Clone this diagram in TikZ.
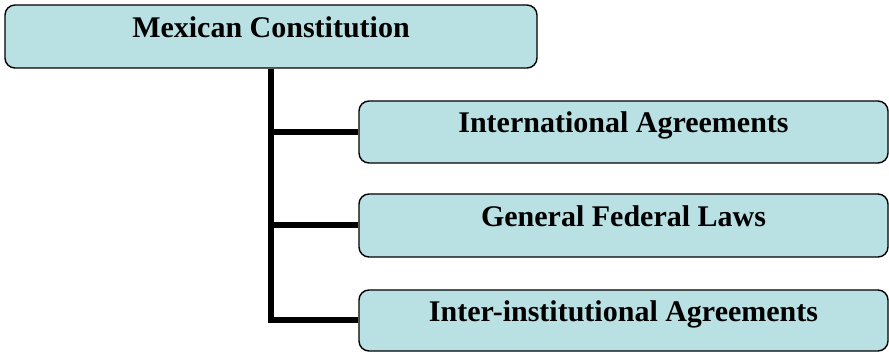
\documentclass[tikz,border=0pt]{standalone}
\usepackage{fontspec}
\setmainfont{Liberation Serif}
\usepackage{tikz}
\definecolor{boxfill}{RGB}{185,224,227}

\begin{document}
\begin{tikzpicture}[x=1pt,y=-1pt]
  \tikzstyle{LawBox}=[draw=black,line width=1.4pt,fill=boxfill,rounded corners=10pt,
    font=\fontsize{30}{36}\selectfont\bfseries,text height=20pt,text depth=18pt,
    minimum height=62pt,inner sep=0pt]
  \tikzstyle{Branch}=[line width=6pt,line join=miter]
  \useasboundingbox (0,0) rectangle (889,352);
  \node[LawBox,minimum width=532pt,minimum height=63pt] (const) at (271,36.5) {Mexican Constitution};
  \node[LawBox,minimum width=529pt] (intl) at (623.5,132) {International Agreements};
  \node[LawBox,minimum width=529pt,minimum height=63pt] (federal) at (623.5,225.5) {General Federal Laws};
  \node[LawBox,minimum width=529pt,minimum height=61pt] (inter) at (623.5,320.5) {Inter-institutional Agreements};
  \draw[Branch] (const.south) |- (inter.west);
  \draw[Branch] (const.south |- intl.west) -- (intl.west);
  \draw[Branch] (const.south |- federal.west) -- (federal.west);
%  \draw[Branch] (const.south) -- (intl.west);
\end{tikzpicture}
\end{document}
